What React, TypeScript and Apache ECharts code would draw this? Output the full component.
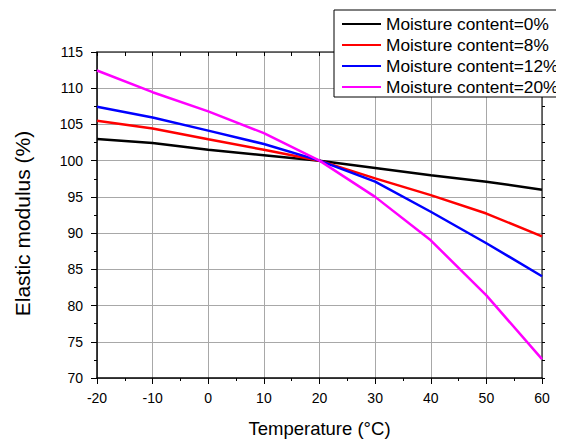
import React, { useEffect, useRef } from "react";
import * as echarts from "echarts";

const temperatures = [-20, -10, 0, 10, 20, 30, 40, 50, 60];
const seriesNames = [
  "Moisture content=0%",
  "Moisture content=8%",
  "Moisture content=12%",
  "Moisture content=20%",
];
const mc0 = [103.0, 102.45, 101.5, 100.75, 100.0, 99.0, 98.0, 97.1, 96.0];
const mc8 = [105.5, 104.45, 102.95, 101.5, 100.0, 97.55, 95.25, 92.7, 89.55];
const mc12 = [107.45, 105.95, 104.15, 102.3, 100.0, 97.1, 92.95, 88.6, 84.05];
const mc20 = [112.45, 109.45, 106.8, 103.8, 100.0, 95.0, 89.0, 81.4, 72.6];
const seriesValues = [mc0, mc8, mc12, mc20];
const seriesColors = ["#000000", "#ff0000", "#0000ff", "#ff00ff"];

const FONT = "'Liberation Sans', Arial, sans-serif";

export default function App() {
  const ref = useRef<HTMLDivElement>(null);
  useEffect(() => {
    if (!ref.current) return;
    const chart = echarts.init(ref.current, null, { renderer: "svg" });
    const series = seriesValues.map((vals, i) => ({
      name: seriesNames[i],
      type: "line",
      xAxisIndex: 0,
      yAxisIndex: 0,
      data: temperatures.map((t, j) => [t, vals[j]]),
      showSymbol: false,
      symbol: "none",
      lineStyle: { color: seriesColors[i], width: 2.5 },
      itemStyle: { color: seriesColors[i] },
      z: 10 + i,
    }));
    chart.setOption({
      animation: false,
      textStyle: { fontFamily: FONT },
      grid: { left: 97, right: 22, top: 52, bottom: 69, containLabel: false },
      graphic: [
        {
          type: "rect",
          z: 100,
          shape: { x: 334, y: 10, width: 240, height: 87 },
          style: { fill: "#ffffff", stroke: "#000000", lineWidth: 1 },
        },
      ],
      legend: {
        data: seriesNames,
        orient: "vertical",
        left: 342,
        top: 15,
        padding: 0,
        itemWidth: 39,
        itemHeight: 12,
        itemGap: 3,
        z: 110,
        icon: "path://M0,5 L39,5 L39,7 L0,7 Z",
        textStyle: { fontSize: 17.3, color: "#000", fontFamily: FONT, lineHeight: 18 },
      },
      xAxis: [
        {
          type: "value",
          min: -20,
          max: 60,
          interval: 10,
          name: "Temperature (°C)",
          nameLocation: "middle",
          nameGap: 41,
          nameTextStyle: { fontSize: 18.5, color: "#000", fontFamily: FONT },
          axisLine: { show: true, onZero: false, lineStyle: { color: "#000", width: 1.5 } },
          axisTick: { show: true, inside: false, length: 6, lineStyle: { color: "#000" } },
          minorTick: { show: true, splitNumber: 2, length: 3, lineStyle: { color: "#000" } },
          axisLabel: { fontSize: 14, color: "#000", margin: 13, fontFamily: FONT },
          splitLine: { show: true, lineStyle: { color: "#a8a8a8", width: 1 } },
        },
        {
          type: "value",
          position: "top",
          min: -20,
          max: 60,
          interval: 10,
          axisLine: { show: true, onZero: false, lineStyle: { color: "#444", width: 1.5 } },
          axisTick: { show: true, inside: true, length: 4, lineStyle: { color: "#000" } },
          minorTick: { show: true, splitNumber: 2, length: 4, lineStyle: { color: "#000" } },
          axisLabel: { show: false },
          splitLine: { show: false },
        },
      ],
      yAxis: [
        {
          type: "value",
          min: 70,
          max: 115,
          interval: 5,
          name: "Elastic modulus (%)",
          nameLocation: "middle",
          nameGap: 64,
          nameTextStyle: {
            fontSize: 21,
            color: "#000",
            fontFamily: FONT,
            padding: [0, 17, 0, 0],
          },
          axisLine: { show: true, onZero: false, lineStyle: { color: "#000", width: 1.5 } },
          axisTick: { show: true, inside: false, length: 6, lineStyle: { color: "#000" } },
          minorTick: { show: true, splitNumber: 2, length: 3, lineStyle: { color: "#000" } },
          axisLabel: { fontSize: 14, color: "#000", margin: 14, fontFamily: FONT },
          splitLine: { show: true, lineStyle: { color: "#a8a8a8", width: 1 } },
        },
        {
          type: "value",
          position: "right",
          min: 70,
          max: 115,
          interval: 5,
          axisLine: { show: true, onZero: false, lineStyle: { color: "#444", width: 1.5 } },
          axisTick: { show: true, inside: false, length: 3, lineStyle: { color: "#000" } },
          minorTick: { show: true, splitNumber: 2, length: 3, lineStyle: { color: "#000" } },
          axisLabel: { show: false },
          splitLine: { show: false },
        },
      ],
      series,
    });
    return () => chart.dispose();
  }, []);
  return <div ref={ref} style={{ width: 564, height: 447, margin: -8 }} />;
}
